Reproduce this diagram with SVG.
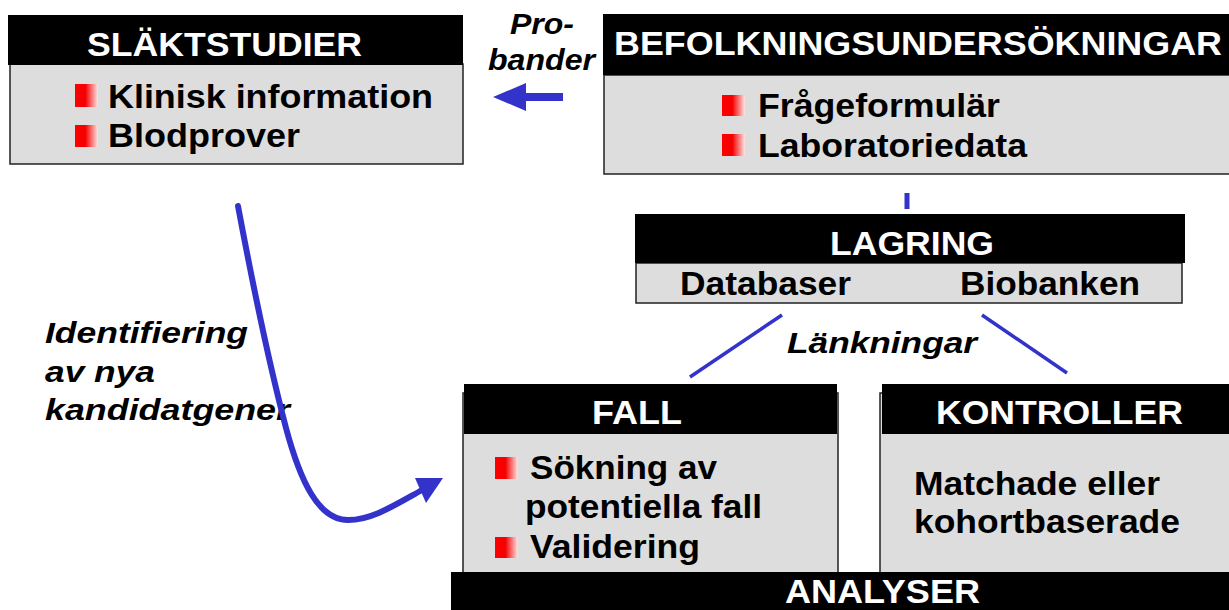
<svg xmlns="http://www.w3.org/2000/svg" width="1229" height="610" viewBox="0 0 1229 610">
<defs>
<linearGradient id="bul" x1="0" y1="0" x2="1" y2="0">
<stop offset="0" stop-color="#ff0000"/>
<stop offset="0.45" stop-color="#f40000"/>
<stop offset="1" stop-color="#ffe4e4"/>
</linearGradient>
<style>
.hd{fill:#000}
.bd{fill:#dddddd;stroke:#222;stroke-width:1.5}
.ht{font-family:"Liberation Sans",Arial,sans-serif;font-weight:bold;font-size:33px;fill:#fff}
.bt{font-family:"Liberation Sans",Arial,sans-serif;font-weight:bold;font-size:33px;fill:#000}
.it{font-family:"Liberation Sans",Arial,sans-serif;font-weight:bold;font-style:italic;font-size:29px;fill:#000}
.bu{fill:url(#bul)}
.ln{stroke:#3333cc;fill:none}
.ah{fill:#3333cc}
</style>
</defs>
<rect width="1229" height="610" fill="#fff"/>

<g id="slaktstudier">
<rect class="bd" x="10" y="64" width="453" height="100"/>
<rect class="hd" x="8" y="15" width="455" height="50"/>
<text class="ht" x="87" y="56" textLength="275" lengthAdjust="spacingAndGlyphs">SLÄKTSTUDIER</text>
<rect class="bu" x="75" y="84" width="23" height="23"/>
<rect class="bu" x="75" y="125" width="23" height="22"/>
<text class="bt" x="108" y="108" textLength="325" lengthAdjust="spacingAndGlyphs">Klinisk information</text>
<text class="bt" x="108" y="147" textLength="192" lengthAdjust="spacingAndGlyphs">Blodprover</text>
</g>

<g id="befolkning">
<rect class="bd" x="604" y="75" width="630" height="99"/>
<rect class="hd" x="603" y="14" width="626" height="61"/>
<text class="ht" x="614" y="55" textLength="608" lengthAdjust="spacingAndGlyphs">BEFOLKNINGSUNDERSÖKNINGAR</text>
<rect class="bu" x="722" y="95" width="23" height="21"/>
<rect class="bu" x="722" y="134" width="23" height="22"/>
<text class="bt" x="758" y="117" textLength="242" lengthAdjust="spacingAndGlyphs">Frågeformulär</text>
<text class="bt" x="758" y="157" textLength="269" lengthAdjust="spacingAndGlyphs">Laboratoriedata</text>
</g>

<g id="lagring">
<rect class="bd" x="636" y="263" width="546" height="40"/>
<rect class="hd" x="635" y="214" width="550" height="49"/>
<text class="ht" x="830" y="255" textLength="164" lengthAdjust="spacingAndGlyphs">LAGRING</text>
<text class="bt" x="680" y="295" textLength="171" lengthAdjust="spacingAndGlyphs">Databaser</text>
<text class="bt" x="960" y="295" textLength="180" lengthAdjust="spacingAndGlyphs">Biobanken</text>
</g>

<g id="fall">
<rect class="bd" x="463" y="393" width="375" height="182"/>
<rect class="hd" x="464" y="384" width="373" height="50"/>
<text class="ht" x="592" y="424" textLength="90" lengthAdjust="spacingAndGlyphs">FALL</text>
<rect class="bu" x="495" y="457" width="23" height="22"/>
<rect class="bu" x="495" y="537" width="23" height="21"/>
<text class="bt" x="530" y="479" textLength="187" lengthAdjust="spacingAndGlyphs">Sökning av</text>
<text class="bt" x="525" y="518" textLength="237" lengthAdjust="spacingAndGlyphs">potentiella fall</text>
<text class="bt" x="530" y="558" textLength="170" lengthAdjust="spacingAndGlyphs">Validering</text>
</g>

<g id="kontroller">
<rect class="bd" x="880" y="393" width="354" height="182"/>
<rect class="hd" x="882" y="384" width="347" height="50"/>
<text class="ht" x="936" y="424" textLength="247" lengthAdjust="spacingAndGlyphs">KONTROLLER</text>
<text class="bt" x="914" y="495" textLength="246" lengthAdjust="spacingAndGlyphs">Matchade eller</text>
<text class="bt" x="914" y="533" textLength="266" lengthAdjust="spacingAndGlyphs">kohortbaserade</text>
</g>

<g id="analyser">
<rect class="hd" x="451" y="572" width="778" height="38"/>
<text class="ht" x="785" y="603" textLength="195" lengthAdjust="spacingAndGlyphs">ANALYSER</text>
</g>

<g id="labels">
<text class="it" x="510" y="34" textLength="64" lengthAdjust="spacingAndGlyphs">Pro-</text>
<text class="it" x="488" y="70" textLength="107" lengthAdjust="spacingAndGlyphs">bander</text>
<text class="it" x="787" y="353" textLength="190" lengthAdjust="spacingAndGlyphs">Länkningar</text>
<text class="it" x="45" y="343" textLength="203" lengthAdjust="spacingAndGlyphs">Identifiering</text>
<text class="it" x="45" y="382" textLength="110" lengthAdjust="spacingAndGlyphs">av nya</text>
<text class="it" x="45" y="420" textLength="245" lengthAdjust="spacingAndGlyphs">kandidatgener</text>
</g>

<g id="connectors">
<line class="ln" x1="563" y1="97" x2="520" y2="97" stroke-width="8"/>
<polygon class="ah" points="493,97 526,83 526,111"/>
<line class="ln" x1="907" y1="193" x2="907" y2="209" stroke-width="5"/>
<line class="ln" x1="782" y1="315" x2="690" y2="377" stroke-width="3.5"/>
<line class="ln" x1="982" y1="315" x2="1067" y2="373" stroke-width="3.5"/>
<path class="ln" stroke-width="6" stroke-linecap="round" d="M238,206 C250,270 268,360 286,428 C300,480 318,520 348,520 C372,520 395,505 422,490"/>
<polygon class="ah" points="415,478 443,478 426,503"/>
</g>
</svg>
